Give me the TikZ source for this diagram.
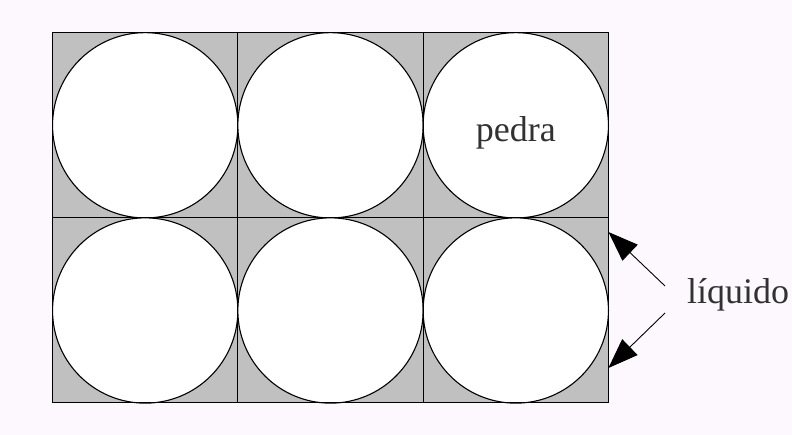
\documentclass[tikz,border=0pt]{standalone}
\usepackage{fontspec}
\setmainfont{Liberation Serif}
\usetikzlibrary{arrows.meta}
\definecolor{fundo}{RGB}{253,248,253}
\definecolor{cinza}{RGB}{192,192,192}
\definecolor{texto}{RGB}{50,50,50}
\tikzset{
  pedra/.style={circle, draw, fill=white, line width=1.1pt, minimum size=185.3pt, inner sep=0pt},
  rotulo/.style={text=texto, inner sep=4pt, font=\fontsize{36}{40}\selectfont},
  seta/.style={->, line width=0.9pt}
}
\begin{document}
\begin{tikzpicture}[x=1pt, y=-1pt, >={Triangle[length=30pt,width=22pt]}]
  % fundo e margens
  \fill[fundo] (0,0) rectangle (792,435);
  \useasboundingbox (0,0) rectangle (792,435);

  % liquido entre as pedras
  \fill[cinza] (52.5,32.3) rectangle (608.4,402.7);

  % pedras (3 x 2)
  \foreach \i in {0,1,2}
    \foreach \j in {0,1}
      \node[pedra] (s\i\j) at (145.2+185.3*\i, 125.3+185.2*\j) {};

  % grade
  \draw[line width=1.1pt] (52.5,32.3) rectangle (608.4,402.7);
  \foreach \x in {237.8,423.1}
    \draw[line width=1.1pt] (\x,32.3) -- (\x,402.7);
  \draw[line width=1.1pt] (52.5,217.9) -- (608.4,217.9);

  % textos
  \node[rotulo] (nome) at ([yshift=-8pt]s20) {pedra};
  \node[rotulo, anchor=base west] (liq) at (683,304) {líquido};

  % setas
  \coordinate (cima) at (608.4,232);
  \coordinate (baixo) at (608.4,368);
  \draw[seta] ([xshift=-18pt,yshift=18pt]liq.base west) -- (cima);
  \draw[seta] ([xshift=-18pt,yshift=-9pt]liq.base west) -- (baixo);
\end{tikzpicture}
\end{document}
